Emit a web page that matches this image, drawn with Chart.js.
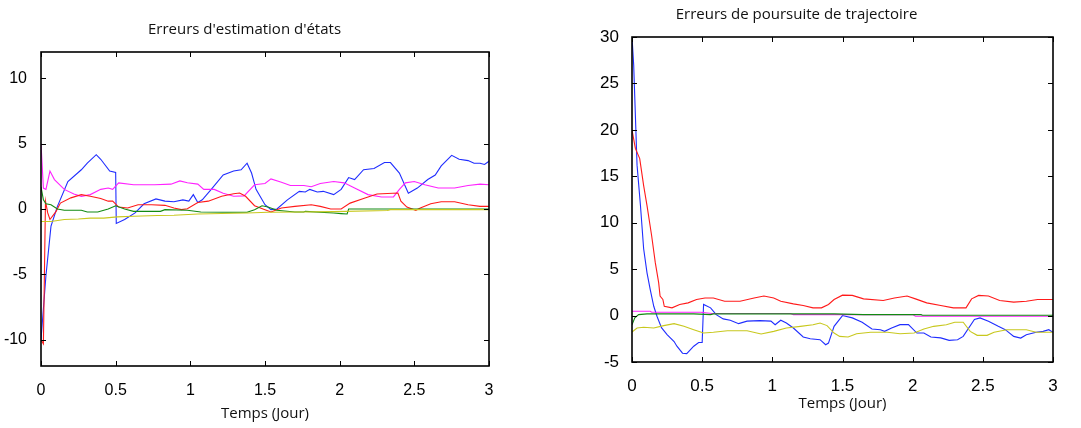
<!DOCTYPE html>
<html>
<head>
<meta charset="utf-8">
<script src="https://cdn.jsdelivr.net/npm/chart.js@4.4.1/dist/chart.umd.min.js"></script>
<style>
  body { margin: 0; background: #fff; }
  .wrap { position: absolute; top: 0; height: 428px; }
  #left { left: 0; width: 540px; }
  #right { left: 540px; width: 541px; }
</style>
</head>
<body>
<div class="wrap" id="left"><canvas id="estim"></canvas></div>
<div class="wrap" id="right"><canvas id="pours"></canvas></div>
<script>
// x ticks shared by both plots (Temps en jours)
const xTicks = [0, 0.5, 1, 1.5, 2, 2.5, 3];
const leftYTicks = [-10, -5, 0, 5, 10];
const rightYTicks = [-5, 0, 5, 10, 15, 20, 25, 30];

// --- Erreurs d'estimation d'états ---
const estBlueT = [0, 0.033, 0.067, 0.11, 0.18, 0.27, 0.31, 0.37, 0.40, 0.46, 0.50, 0.504, 0.56, 0.63, 0.69, 0.77, 0.83, 0.89, 0.95, 0.99, 1.02, 1.05, 1.08, 1.14, 1.22, 1.29, 1.34, 1.38, 1.41, 1.44, 1.50, 1.54, 1.58, 1.65, 1.73, 1.77, 1.80, 1.85, 1.89, 1.96, 2.01, 2.06, 2.10, 2.16, 2.23, 2.30, 2.34, 2.40, 2.46, 2.52, 2.59, 2.64, 2.68, 2.75, 2.80, 2.86, 2.90, 2.94, 2.97, 3];
const estBlue = [-10, -5.1, -1.3, 0.2, 2.1, 3.0, 3.5, 4.15, 3.8, 2.9, 2.8, -1.1, -0.8, -0.3, 0.4, 0.77, 0.6, 0.55, 0.7, 0.6, 1.1, 0.5, 0.7, 1.5, 2.6, 2.9, 3.0, 3.5, 2.75, 1.5, 0.33, -0.05, 0, 0.7, 1.35, 1.3, 1.5, 1.3, 1.35, 1.1, 1.5, 2.4, 2.25, 3.0, 3.1, 3.55, 3.55, 2.75, 1.2, 1.6, 2.25, 2.6, 3.3, 4.1, 3.8, 3.7, 3.5, 3.5, 3.4, 3.65];

const estMagT = [0, 0.016, 0.033, 0.06, 0.09, 0.156, 0.22, 0.27, 0.33, 0.40, 0.45, 0.48, 0.52, 0.62, 0.76, 0.87, 0.93, 0.98, 1.05, 1.09, 1.16, 1.22, 1.29, 1.36, 1.43, 1.50, 1.54, 1.61, 1.67, 1.76, 1.81, 1.87, 1.96, 2.03, 2.10, 2.19, 2.28, 2.36, 2.40, 2.44, 2.50, 2.57, 2.66, 2.77, 2.86, 2.94, 3];
const estMag = [5, 1.6, 1.5, 2.9, 2.25, 1.5, 1.15, 0.97, 1.1, 1.5, 1.6, 1.5, 2.0, 1.85, 1.85, 1.9, 2.15, 2.0, 1.9, 1.5, 1.5, 1.2, 0.97, 1.0, 1.85, 1.95, 2.3, 2.05, 1.8, 1.8, 1.7, 1.95, 2.1, 2.0, 1.6, 1.1, 0.92, 0.92, 1.5, 2.0, 2.1, 1.85, 1.6, 1.6, 1.8, 1.9, 1.85];

const estRedT = [0, 0.016, 0.03, 0.045, 0.06, 0.10, 0.13, 0.20, 0.27, 0.33, 0.40, 0.45, 0.48, 0.52, 0.58, 0.65, 0.74, 0.83, 0.89, 0.94, 0.98, 1.05, 1.12, 1.21, 1.29, 1.33, 1.37, 1.43, 1.50, 1.54, 1.61, 1.70, 1.81, 1.87, 1.94, 2.01, 2.07, 2.16, 2.25, 2.39, 2.41, 2.45, 2.51, 2.54, 2.61, 2.68, 2.77, 2.86, 2.94, 3];
const estRed = [-10, -10.3, 0.6, -0.3, -0.8, -0.2, 0.45, 0.85, 1.1, 0.97, 0.8, 0.6, 0.6, 0.15, 0.08, 0.33, 0.33, 0.28, 0.08, -0.05, 0.02, 0.5, 0.6, 0.97, 1.17, 1.22, 0.97, 0.25, -0.05, -0.23, 0.08, 0.2, 0.33, 0.2, 0, 0, 0.45, 0.8, 1.15, 1.22, 0.6, 0.15, -0.1, 0.08, 0.4, 0.55, 0.55, 0.33, 0.2, 0.2];

const estGreenT = [0, 0.016, 0.033, 0.067, 0.11, 0.156, 0.27, 0.31, 0.38, 0.45, 0.50, 0.56, 0.62, 0.80, 0.83, 0.98, 1.07, 1.25, 1.38, 1.43, 1.48, 1.52, 1.58, 1.70, 1.76, 1.77, 1.96, 2.01, 2.05, 2.06, 3];
const estGreen = [1.7, 0.7, 0.4, 0.33, 0, -0.1, -0.1, -0.23, -0.23, 0, 0.25, 0, -0.18, -0.18, -0.05, -0.1, -0.23, -0.25, -0.25, -0.05, 0.25, 0.15, -0.1, -0.23, -0.23, -0.18, -0.3, -0.35, -0.38, 0, 0];

const estYellowT = [0, 0.067, 0.156, 0.25, 0.33, 0.42, 0.51, 0.62, 0.78, 0.89, 1.05, 1.29, 1.38, 1.52, 1.74, 1.96, 2.32, 2.34, 3];
const estYellow = [-0.95, -0.95, -0.8, -0.77, -0.7, -0.7, -0.6, -0.55, -0.5, -0.48, -0.38, -0.33, -0.3, -0.25, -0.23, -0.2, -0.12, -0.05, -0.05];

// --- Erreurs de poursuite de trajectoire ---
const trajBlueT = [0, 0.012, 0.036, 0.06, 0.083, 0.107, 0.13, 0.155, 0.178, 0.21, 0.25, 0.30, 0.32, 0.36, 0.39, 0.44, 0.475, 0.50, 0.51, 0.56, 0.60, 0.65, 0.70, 0.76, 0.82, 0.91, 0.99, 1.02, 1.06, 1.10, 1.15, 1.22, 1.27, 1.34, 1.38, 1.40, 1.44, 1.50, 1.57, 1.64, 1.71, 1.77, 1.80, 1.85, 1.91, 1.97, 2.03, 2.08, 2.13, 2.20, 2.26, 2.32, 2.36, 2.44, 2.48, 2.54, 2.61, 2.66, 2.72, 2.77, 2.81, 2.88, 2.93, 2.97, 3];
const trajBlue = [30, 27, 16.2, 11.9, 7.2, 4.6, 2.8, 1.0, -0.07, -1.3, -2.05, -2.8, -3.3, -4.05, -4.1, -3.3, -2.9, -2.9, 1.2, 0.83, 0.1, -0.36, -0.5, -0.87, -0.6, -0.54, -0.6, -0.98, -0.5, -0.8, -1.34, -2.3, -2.5, -2.6, -3.14, -2.96, -1.16, 0, -0.25, -0.72, -1.45, -1.52, -1.7, -1.34, -0.98, -0.98, -1.88, -1.88, -2.3, -2.4, -2.67, -2.6, -2.24, -0.43, -0.25, -0.61, -1.16, -1.52, -2.24, -2.42, -2.06, -1.8, -1.7, -1.52, -1.8];

const trajRedT = [0, 0.024, 0.055, 0.083, 0.107, 0.14, 0.166, 0.19, 0.20, 0.22, 0.23, 0.285, 0.34, 0.40, 0.46, 0.52, 0.58, 0.66, 0.77, 0.87, 0.94, 1.01, 1.06, 1.15, 1.22, 1.29, 1.35, 1.40, 1.44, 1.50, 1.57, 1.65, 1.79, 1.87, 1.96, 2.02, 2.10, 2.20, 2.29, 2.38, 2.42, 2.47, 2.54, 2.62, 2.72, 2.81, 2.89, 3];
const trajRed = [20, 18, 16.9, 14, 11.85, 8.6, 5.7, 3.55, 2.1, 1.73, 1.0, 0.83, 1.2, 1.37, 1.73, 1.9, 1.9, 1.55, 1.55, 1.9, 2.1, 1.9, 1.55, 1.26, 1.08, 0.83, 0.83, 1.2, 1.73, 2.2, 2.17, 1.8, 1.63, 1.9, 2.1, 1.8, 1.37, 1.08, 0.83, 0.83, 1.8, 2.17, 2.1, 1.63, 1.45, 1.55, 1.73, 1.73];

const trajGreenT = [0, 0.02, 0.047, 0.107, 0.44, 0.56, 0.58, 1.14, 1.44, 1.65, 2.06, 2.07, 3];
const trajGreen = [-1.0, -0.25, 0.1, 0.18, 0.18, 0.1, 0.18, 0.18, 0.18, 0.1, 0.1, 0.04, 0.04];

const trajMagT = [0, 0.13, 0.14, 0.49, 0.57, 1.13, 1.15, 2.0, 2.02, 3];
const trajMag = [0.47, 0.47, 0.36, 0.36, 0.22, 0.22, 0.1, 0.1, -0.07, -0.07];

const trajYellowT = [0, 0.036, 0.083, 0.155, 0.226, 0.30, 0.37, 0.44, 0.51, 0.58, 0.68, 0.82, 0.92, 1.01, 1.10, 1.20, 1.29, 1.34, 1.39, 1.44, 1.48, 1.54, 1.60, 1.70, 1.82, 1.91, 2.01, 2.08, 2.15, 2.24, 2.30, 2.36, 2.41, 2.46, 2.53, 2.58, 2.67, 2.81, 2.88, 3];
const trajYellow = [-1.77, -1.34, -1.26, -1.34, -1.08, -0.87, -1.16, -1.52, -1.88, -1.8, -1.63, -1.63, -1.99, -1.7, -1.34, -1.16, -0.98, -0.8, -1.08, -1.88, -2.24, -2.3, -1.95, -1.8, -1.8, -1.95, -1.88, -1.45, -1.16, -0.98, -0.72, -0.72, -1.7, -2.13, -2.13, -1.8, -1.52, -1.52, -1.8, -1.8];

const BLUE = '#1f2dff', RED = '#ff1a1a', MAG = '#ff22ff', GREEN = '#128a12', YEL = '#c8c81e';

function pts(t, v) { return t.map((x, i) => ({ x: x, y: v[i] })); }
function line(t, v, color) {
  return { data: pts(t, v), borderColor: color, borderWidth: 1.1, pointRadius: 0, tension: 0, fill: false };
}

// MATLAB style frame with inward ticks on the four sides
const boxTicks = {
  id: 'boxTicks',
  afterDatasetsDraw(chart) {
    const { ctx, chartArea: a, scales: { x, y } } = chart;
    ctx.save();
    ctx.strokeStyle = '#000';
    ctx.lineWidth = 1;
    ctx.beginPath();
    xTicks.forEach(v => {
      const px = Math.round(x.getPixelForValue(v)) + 0.5;
      ctx.moveTo(px, a.bottom); ctx.lineTo(px, a.bottom - 5);
      ctx.moveTo(px, a.top); ctx.lineTo(px, a.top + 5);
    });
    y.ticks.forEach(t => {
      const py = Math.round(y.getPixelForValue(t.value)) + 0.5;
      ctx.moveTo(a.left, py); ctx.lineTo(a.left + 5, py);
      ctx.moveTo(a.right, py); ctx.lineTo(a.right - 5, py);
    });
    ctx.stroke();
    ctx.lineWidth = 1.6;
    ctx.strokeRect(a.left, a.top, a.width, a.height);
    ctx.restore();
  }
};

function makeChart(id, datasets, cfg) {
  return new Chart(id, {
    type: 'line',
    data: { datasets: datasets },
    plugins: [boxTicks],
    options: {
      responsive: true,
      maintainAspectRatio: false,
      animation: false,
      layout: { padding: cfg.padding },
      plugins: {
        legend: { display: false },
        tooltip: { enabled: false },
        title: {
          display: true, text: cfg.title, color: '#111',
          font: { family: 'Open Sans', size: 15, weight: 'normal' },
          padding: cfg.titlePad
        }
      },
      scales: {
        x: {
          type: 'linear', min: 0, max: 3,
          afterBuildTicks: s => { s.ticks = xTicks.map(v => ({ value: v })); },
          afterFit: s => { s.height = cfg.xHeight; },
          grid: { display: false }, border: { display: false },
          ticks: { color: '#000', padding: cfg.xTickPad, maxRotation: 0, font: cfg.tickFont,
                   callback: v => String(v) },
          title: {
            display: true, text: 'Temps (Jour)', color: '#111',
            font: { family: 'Open Sans', size: 15 }, padding: cfg.xTitlePad
          }
        },
        y: {
          min: cfg.yMin, max: cfg.yMax,
          afterBuildTicks: s => { s.ticks = cfg.yTicks.map(v => ({ value: v })); },
          afterFit: s => { s.width = cfg.yWidth; },
          grid: { display: false }, border: { display: false },
          ticks: { color: '#000', padding: cfg.yTickPad, font: cfg.tickFont,
                   callback: v => String(v) }
        }
      }
    }
  });
}

makeChart('estim', [
  line(estYellowT, estYellow, YEL),
  line(estGreenT, estGreen, GREEN),
  line(estRedT, estRed, RED),
  line(estMagT, estMag, MAG),
  line(estBlueT, estBlue, BLUE)
], {
  title: "Erreurs d'estimation d'états",
  titlePad: { top: 21, bottom: 13 },
  padding: { left: 0, right: 51, top: 0, bottom: 0 },
  xHeight: 62, yWidth: 41, xTickPad: 7, yTickPad: 6,
  xTitlePad: { top: 5, bottom: 5 },
  yMin: -12, yMax: 12, yTicks: leftYTicks,
  tickFont: { family: 'Liberation Sans', size: 16 }
});

makeChart('pours', [
  line(trajYellowT, trajYellow, YEL),
  line(trajGreenT, trajGreen, GREEN),
  line(trajMagT, trajMag, MAG),
  line(trajRedT, trajRed, RED),
  line(trajBlueT, trajBlue, BLUE)
], {
  title: 'Erreurs de poursuite de trajectoire',
  titlePad: { top: 6, bottom: 13 },
  padding: { left: 0, right: 28, top: 0, bottom: 0 },
  xHeight: 66, yWidth: 92, xTickPad: 6, yTickPad: 5,
  xTitlePad: { top: 1, bottom: 15 },
  yMin: -5, yMax: 30, yTicks: rightYTicks,
  tickFont: { family: 'Liberation Sans', size: 17 }
});
</script>
</body>
</html>
